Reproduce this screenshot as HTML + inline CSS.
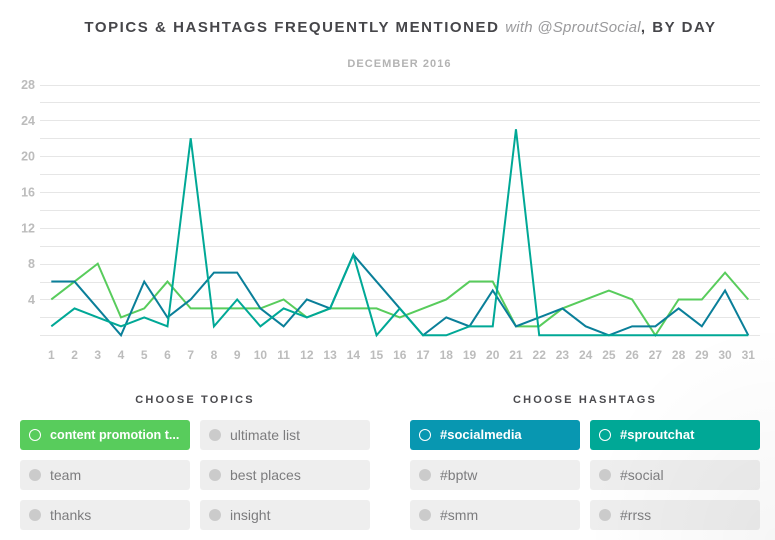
<!DOCTYPE html>
<html lang="en">
<head>
<meta charset="utf-8">
<title>Topics and hashtags by day</title>
<style>
  html, body { margin: 0; padding: 0; }
  body { width: 775px; height: 540px; overflow: hidden; position: relative; background: #fff; font-family: "Liberation Sans", sans-serif; }
  #shade { position: absolute; left: 0; top: 0; width: 775px; height: 540px; background: radial-gradient(ellipse 190px 220px at 100% 100%, rgba(0,0,0,0.035), rgba(0,0,0,0.014) 55%, rgba(0,0,0,0) 100%); }
  #chart { position: absolute; left: 0; top: 0; }
  .title { position: absolute; left: 13px; width: 775px; top: 19px; text-align: center; font-size: 15px; line-height: 18px; font-weight: bold; letter-spacing: 1.55px; color: #46464a; white-space: nowrap; }
  .title em { font-weight: normal; font-style: italic; color: #9a9a9c; letter-spacing: 0.25px; }
  .subtitle { position: absolute; left: 12px; width: 775px; top: 57px; text-align: center; font-size: 11px; line-height: 14px; font-weight: bold; letter-spacing: 1.05px; color: #b3b3b3; }
  .group-title { position: absolute; top: 393px; text-align: center; font-size: 11px; line-height: 14px; font-weight: bold; letter-spacing: 2.15px; color: #4a4a4e; white-space: nowrap; }
  .chip { position: absolute; width: 170px; height: 30px; border-radius: 3px; background: rgba(0,0,0,0.068); color: #7c7c7e; font-size: 14px; line-height: 30px; box-sizing: border-box; padding-left: 30px; white-space: nowrap; overflow: hidden; cursor: pointer; }
  .chip .dot { position: absolute; left: 9px; top: 9px; width: 12px; height: 12px; border-radius: 50%; background: #cbcbcb; box-sizing: border-box; }
  .chip.on { color: #fff; font-weight: bold; font-size: 13px; }
  .chip.on .dot { background: transparent; border: 1px solid #fff; }
</style>
</head>
<body>
<div id="shade"></div>
<div class="title">TOPICS &amp; HASHTAGS FREQUENTLY MENTIONED <em>with @SproutSocial</em>, BY DAY</div>
<div class="subtitle">DECEMBER 2016</div>

<svg id="chart" width="775" height="380" xmlns="http://www.w3.org/2000/svg"></svg>

<div class="group-title" style="left:20px;width:350px">CHOOSE TOPICS</div>
<div class="group-title" style="left:410px;width:350px">CHOOSE HASHTAGS</div>

<div class="chip on" style="left:20px;top:420px;background:#58cc5c;font-size:12.6px"><span class="dot"></span>content promotion t...</div>
<div class="chip" style="left:200px;top:420px"><span class="dot"></span>ultimate list</div>
<div class="chip" style="left:20px;top:460px"><span class="dot"></span>team</div>
<div class="chip" style="left:200px;top:460px"><span class="dot"></span>best places</div>
<div class="chip" style="left:20px;top:500px"><span class="dot"></span>thanks</div>
<div class="chip" style="left:200px;top:500px"><span class="dot"></span>insight</div>

<div class="chip on" style="left:410px;top:420px;background:#0897b1"><span class="dot"></span>#socialmedia</div>
<div class="chip on" style="left:590px;top:420px;background:#00a896"><span class="dot"></span>#sproutchat</div>
<div class="chip" style="left:410px;top:460px"><span class="dot"></span>#bptw</div>
<div class="chip" style="left:590px;top:460px"><span class="dot"></span>#social</div>
<div class="chip" style="left:410px;top:500px"><span class="dot"></span>#smm</div>
<div class="chip" style="left:590px;top:500px"><span class="dot"></span>#rrss</div>

<script>
const days = [1,2,3,4,5,6,7,8,9,10,11,12,13,14,15,16,17,18,19,20,21,22,23,24,25,26,27,28,29,30,31];
const gridValues = [0,2,4,6,8,10,12,14,16,18,20,22,24,26,28];
const yTickLabels = [4,8,12,16,20,24,28];
const contentPromotion = [4,6,8,2,3,6,3,3,3,3,4,2,3,3,3,2,3,4,6,6,1,1,3,4,5,4,0,4,4,7,4];
const socialmedia = [6,6,3,0,6,2,4,7,7,3,1,4,3,9,6,3,0,2,1,5,1,2,3,1,0,1,1,3,1,5,0];
const sproutchat = [1,3,2,1,2,1,22,1,4,1,3,2,3,9,0,3,0,0,1,1,23,0,0,0,0,0,0,0,0,0,0];

const svg = document.getElementById('chart');
const NS = 'http://www.w3.org/2000/svg';
function xScale(d) { return 51.3 + (d - 1) * (697 / 30); }
function yScale(v) { return 335.3 - v * (250.8 / 28); }

gridValues.forEach(function (v) {
  const line = document.createElementNS(NS, 'line');
  
  
  line.setAttribute('x1', 40);
  line.setAttribute('x2', 760);
  line.setAttribute('y1', Math.round(yScale(v)) + 0.5);
  line.setAttribute('y2', Math.round(yScale(v)) + 0.5);
  line.setAttribute('stroke', '#e6e6e6');
  line.setAttribute('stroke-width', 1);
  svg.appendChild(line);
});

yTickLabels.forEach(function (v) {
  const t = document.createElementNS(NS, 'text');
  
  
  t.setAttribute('x', 35);
  t.setAttribute('y', yScale(v) + 4.5);
  t.setAttribute('text-anchor', 'end');
  t.setAttribute('font-size', 12.5);
  t.setAttribute('font-weight', 'bold');
  t.setAttribute('fill', '#bcbcbc');
  t.textContent = v;
  svg.appendChild(t);
});

days.forEach(function (d) {
  const t = document.createElementNS(NS, 'text');
  
  
  t.setAttribute('x', xScale(d));
  t.setAttribute('y', 359);
  t.setAttribute('text-anchor', 'middle');
  t.setAttribute('font-size', 12);
  t.setAttribute('font-weight', 'bold');
  t.setAttribute('fill', '#bcbcbc');
  t.textContent = d;
  svg.appendChild(t);
});

function drawSeries(values, color, name) {
  const p = document.createElementNS(NS, 'polyline');
  
  
  p.setAttribute('points', values.map(function (v, i) { return xScale(days[i]) + ',' + yScale(v); }).join(' '));
  p.setAttribute('fill', 'none');
  p.setAttribute('stroke', color);
  p.setAttribute('stroke-width', 2);
  p.setAttribute('stroke-linejoin', 'miter');
  svg.appendChild(p);
}
drawSeries(contentPromotion, '#58cc5c', 'series-content-promotion');
drawSeries(socialmedia, '#0a7f99', 'series-socialmedia');
drawSeries(sproutchat, '#00a896', 'series-sproutchat');
</script>
</body>
</html>
